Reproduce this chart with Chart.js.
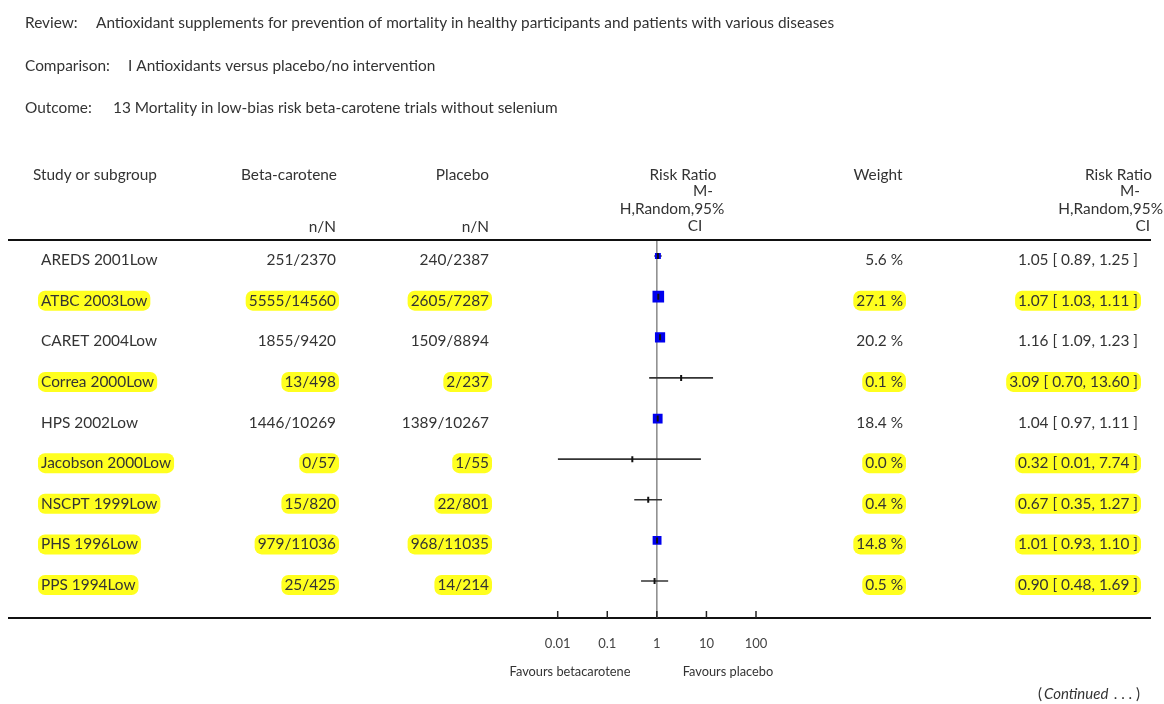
<!DOCTYPE html>
<html>
<head>
<meta charset="utf-8">
<script src="https://cdn.jsdelivr.net/npm/chart.js@4.4.1/dist/chart.umd.min.js"></script>
<style>
  html, body { margin: 0; padding: 0; background: #fff; }
  #wrap { width: 1164px; height: 704px; position: relative; }
</style>
</head>
<body>
<div id="wrap"><canvas id="forest" width="1164" height="704"></canvas></div>
<script>
// study rows
const studies = ['AREDS 2001Low', 'ATBC 2003Low', 'CARET 2004Low', 'Correa 2000Low', 'HPS 2002Low',
  'Jacobson 2000Low', 'NSCPT 1999Low', 'PHS 1996Low', 'PPS 1994Low'];
const betaEvents = ['251/2370', '5555/14560', '1855/9420', '13/498', '1446/10269', '0/57', '15/820', '979/11036', '25/425'];
const placeboEvents = ['240/2387', '2605/7287', '1509/8894', '2/237', '1389/10267', '1/55', '22/801', '968/11035', '14/214'];
const ratio = [1.05, 1.07, 1.16, 3.09, 1.04, 0.32, 0.67, 1.01, 0.90];
const lower = [0.89, 1.03, 1.09, 0.70, 0.97, 0.01, 0.35, 0.93, 0.48];
const upper = [1.25, 1.11, 1.23, 13.60, 1.11, 7.74, 1.27, 1.10, 1.69];
const weights = [5.6, 27.1, 20.2, 0.1, 18.4, 0.0, 0.4, 14.8, 0.5];
const highlighted = [false, true, false, true, false, true, true, true, true];
const axisTicks = [0.01, 0.1, 1, 10, 100];
const axisLabels = ['0.01', '0.1', '1', '10', '100'];

const FONT = 'Lato, "Open Sans", sans-serif';
const TEXT = '#333';
const HILITE = '#ffff1f';

const rows = studies.map((s, i) => i + 1);

function hiliteText(ctx, txt, x, y, align) {
  const w = ctx.measureText(txt).width;
  const left = align === 'right' ? x - w : x;
  ctx.fillStyle = HILITE;
  ctx.beginPath();
  ctx.roundRect(left - 3, y - 10, w + 6, 20, 7);
  ctx.fill();
}

function put(ctx, txt, x, y, align, hl) {
  ctx.textAlign = align;
  if (hl) hiliteText(ctx, txt, x, y, align);
  ctx.fillStyle = TEXT;
  ctx.fillText(txt, x, y);
}

const tablePlugin = {
  id: 'table',
  beforeDatasetsDraw(chart) {
    const ctx = chart.ctx;
    const xs = chart.scales.x, ys = chart.scales.y;
    const area = chart.chartArea;
    ctx.save();
    // rules
    ctx.strokeStyle = '#111';
    ctx.lineWidth = 2;
    ctx.beginPath();
    ctx.moveTo(8, area.top - 1); ctx.lineTo(1151, area.top - 1);
    ctx.moveTo(8, area.bottom); ctx.lineTo(1151, area.bottom);
    ctx.stroke();
    // line of no effect
    const x1 = xs.getPixelForValue(1);
    ctx.strokeStyle = '#777';
    ctx.lineWidth = 1.3;
    ctx.beginPath();
    ctx.moveTo(x1, area.top); ctx.lineTo(x1, area.bottom);
    ctx.stroke();
    // tick marks pointing up, with their labels below the rule
    ctx.strokeStyle = '#222';
    ctx.lineWidth = 1.5;
    ctx.textBaseline = 'middle';
    ctx.font = '13px ' + FONT;
    axisTicks.forEach((t, k) => {
      const px = xs.getPixelForValue(t);
      ctx.beginPath();
      ctx.moveTo(px, area.bottom); ctx.lineTo(px, area.bottom - 7);
      ctx.stroke();
      ctx.textAlign = 'center';
      ctx.fillStyle = '#444';
      ctx.fillText(axisLabels[k], px, 644);
    });

    // header block
    ctx.font = '15.4px ' + FONT;
    put(ctx, 'Review:', 25, 23, 'left');
    put(ctx, 'Antioxidant supplements for prevention of mortality in healthy participants and patients with various diseases', 96, 23, 'left');
    put(ctx, 'Comparison:', 25, 66, 'left');
    put(ctx, 'I Antioxidants versus placebo/no intervention', 128, 66, 'left');
    put(ctx, 'Outcome:', 25, 108, 'left');
    put(ctx, '13 Mortality in low-bias risk beta-carotene trials without selenium', 113, 108, 'left');

    // column headers
    put(ctx, 'Study or subgroup', 33, 175, 'left');
    put(ctx, 'Beta-carotene', 337, 175, 'right');
    put(ctx, 'Placebo', 489, 175, 'right');
    put(ctx, 'n/N', 336, 227, 'right');
    put(ctx, 'n/N', 489, 227, 'right');
    put(ctx, 'Risk Ratio', 683, 175, 'center');
    put(ctx, 'M-', 703, 191, 'center');
    put(ctx, 'H,Random,95%', 672, 209, 'center');
    put(ctx, 'CI', 695, 226, 'center');
    put(ctx, 'Weight', 878, 175, 'center');
    put(ctx, 'Risk Ratio', 1152, 175, 'right');
    put(ctx, 'M-', 1140, 191, 'right');
    put(ctx, 'H,Random,95%', 1163, 209, 'right');
    put(ctx, 'CI', 1150, 226, 'right');

    // rows
    rows.forEach((r, i) => {
      const y = ys.getPixelForValue(r) + 4;
      const hl = highlighted[i];
      put(ctx, studies[i], 41, y, 'left', hl);
      put(ctx, betaEvents[i], 336, y, 'right', hl);
      put(ctx, placeboEvents[i], 489, y, 'right', hl);
      put(ctx, weights[i].toFixed(1) + ' %', 903, y, 'right', hl);
      put(ctx, ratio[i].toFixed(2) + ' [ ' + lower[i].toFixed(2) + ', ' + upper[i].toFixed(2) + ' ]', 1138, y, 'right', hl);
    });

    // footer
    ctx.font = '12.8px ' + FONT;
    put(ctx, 'Favours betacarotene', 570, 672, 'center');
    put(ctx, 'Favours placebo', 728, 672, 'center');
    ctx.font = '15px ' + FONT;
    put(ctx, '(', 1038, 694, 'left');
    ctx.font = 'italic 15px ' + FONT;
    put(ctx, 'Continued', 1044, 694, 'left');
    ctx.font = '15px ' + FONT;
    put(ctx, ' . . . )', 1110, 694, 'left');
    ctx.restore();
  }
};

const ciSets = rows.map((r, i) => ({
  type: 'line',
  data: [{ x: lower[i], y: r }, { x: upper[i], y: r }],
  borderColor: '#333',
  borderWidth: 1.6,
  pointRadius: 0,
  order: 2
}));

new Chart(document.getElementById('forest'), {
  type: 'scatter',
  data: {
    datasets: [
      ...ciSets,
      {
        data: rows.map((r, i) => ({ x: ratio[i], y: r })),
        pointStyle: 'rect',
        // square side grows with study weight
        pointRadius: weights.map(w => (w < 1 ? 0 : 1.2 + 2 * Math.sqrt(w)) / Math.SQRT2),
        backgroundColor: '#0000ee',
        borderWidth: 0,
        order: 1
      },
      {
        data: rows.map((r, i) => ({ x: ratio[i], y: r })),
        pointStyle: 'line',
        rotation: 90,
        pointRadius: 3,
        borderColor: '#111',
        borderWidth: 2,
        order: 0
      }
    ]
  },
  options: {
    responsive: false,
    animation: false,
    devicePixelRatio: 1,
    layout: { padding: { left: 557.7, right: 408, top: 241, bottom: 86 } },
    plugins: { legend: { display: false }, tooltip: { enabled: false } },
    scales: {
      x: {
        type: 'logarithmic',
        min: 0.01,
        max: 100,
        display: false
      },
      y: {
        type: 'linear',
        display: false,
        reverse: true,
        min: 0.63,
        max: 9.91
      }
    }
  },
  plugins: [tablePlugin]
});
</script>
</body>
</html>
